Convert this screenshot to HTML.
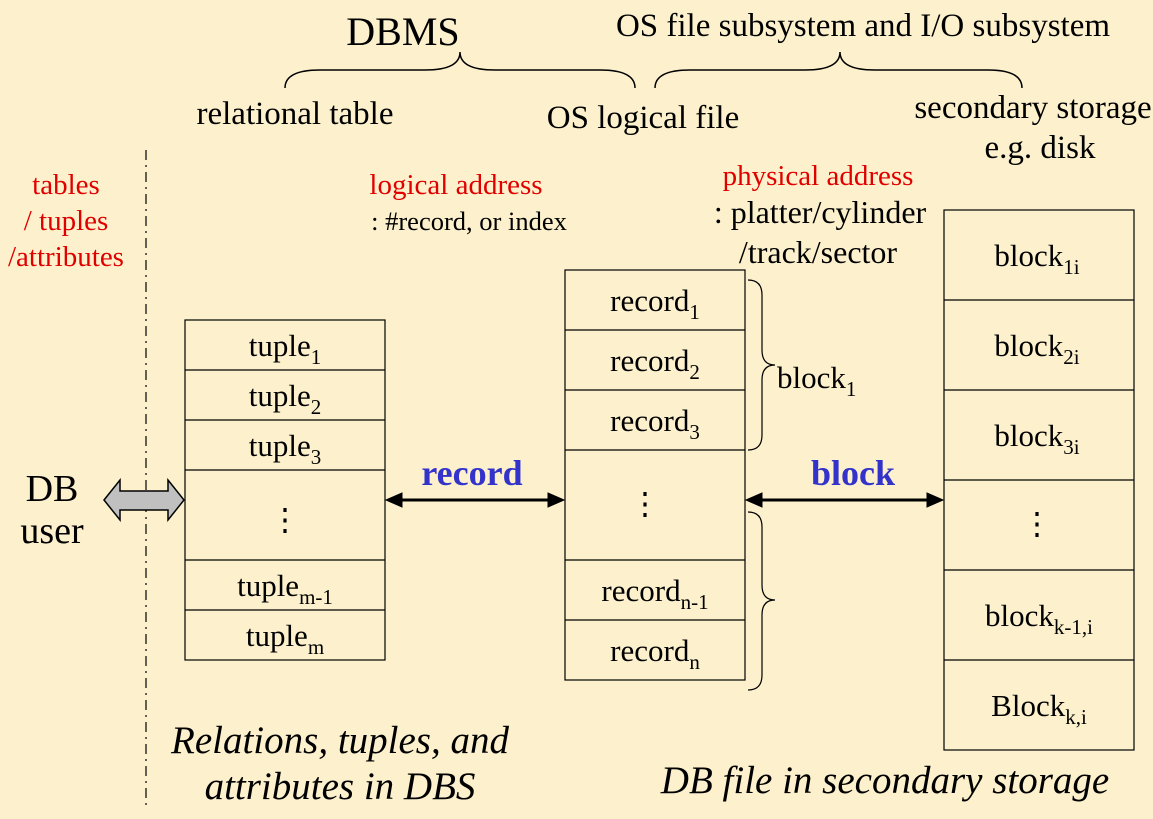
<!DOCTYPE html>
<html><head><meta charset="utf-8"><style>
html,body{margin:0;padding:0;background:#fcf1cc;}
svg{display:block;font-family:"Liberation Serif",serif;}
</style></head><body>
<svg width="1153" height="819" viewBox="0 0 1153 819">
<rect width="1153" height="819" fill="#fcf1cc"/>
<g font-size="33" fill="#000">
<text x="403" y="45" font-size="40" text-anchor="middle">DBMS</text>
<text x="863" y="36" text-anchor="middle">OS file subsystem and I/O subsystem</text>
<path d="M285,88 Q285,70 320,70 L425,70 Q460,70 460,52 Q460,70 495,70 L600,70 Q635,70 635,88" fill="none" stroke="#000" stroke-width="1.5"/>
<path d="M655,88 Q655,70 690,70 L805,70 Q840,70 840,52 Q840,70 875,70 L988,70 Q1022,70 1022,88" fill="none" stroke="#000" stroke-width="1.5"/>
<text x="295" y="124" text-anchor="middle">relational table</text>
<text x="643" y="128" text-anchor="middle">OS logical file</text>
<text x="1033" y="118" text-anchor="middle">secondary storage</text>
<text x="1040" y="158" text-anchor="middle">e.g. disk</text>
</g>
<line x1="146" y1="150" x2="146" y2="805" stroke="#000" stroke-width="1.2" stroke-dasharray="10,5,2,5"/>
<g font-size="29" fill="#e00000" text-anchor="middle">
<text x="66" y="194">tables</text>
<text x="66" y="230">/ tuples</text>
<text x="66" y="266">/attributes</text>
<text x="456" y="194">logical address</text>
<text x="818" y="185">physical address</text>
</g>
<g font-size="26.5" fill="#000" text-anchor="middle">
<text x="469" y="230">: #record, or index</text>
</g>
<g font-size="32" fill="#000" text-anchor="middle">
<text x="820" y="223">: platter/cylinder</text>
<text x="818" y="263">/track/sector</text>
</g>
<g font-size="38" fill="#000" text-anchor="middle">
<text x="52" y="501">DB</text>
<text x="52" y="543">user</text>
</g>
<path d="M104,500 L120,480 L120,491 L168,491 L168,480 L184,500 L168,520 L168,510 L120,510 L120,520 Z" fill="#c0c0c0" stroke="#000" stroke-width="1.5"/>
<g fill="none" stroke="#000" stroke-width="1.2">
<rect x="185" y="320" width="200" height="340"/>
<line x1="185" y1="370" x2="385" y2="370"/><line x1="185" y1="420" x2="385" y2="420"/>
<line x1="185" y1="470" x2="385" y2="470"/><line x1="185" y1="560" x2="385" y2="560"/>
<line x1="185" y1="610" x2="385" y2="610"/>
</g>
<g font-size="31" fill="#000" text-anchor="middle">
<text x="285" y="356">tuple<tspan font-size="21" dy="8">1</tspan></text>
<text x="285" y="406">tuple<tspan font-size="21" dy="8">2</tspan></text>
<text x="285" y="456">tuple<tspan font-size="21" dy="8">3</tspan></text>
<text x="285" y="530">⋮</text>
<text x="285" y="596">tuple<tspan font-size="21" dy="8">m-1</tspan></text>
<text x="285" y="646">tuple<tspan font-size="21" dy="8">m</tspan></text>
</g>
<g fill="none" stroke="#000" stroke-width="1.2">
<rect x="565" y="270" width="180" height="410"/>
<line x1="565" y1="330" x2="745" y2="330"/><line x1="565" y1="390" x2="745" y2="390"/>
<line x1="565" y1="450" x2="745" y2="450"/><line x1="565" y1="560" x2="745" y2="560"/>
<line x1="565" y1="620" x2="745" y2="620"/>
</g>
<g font-size="31" fill="#000" text-anchor="middle">
<text x="655" y="311">record<tspan font-size="21" dy="8">1</tspan></text>
<text x="655" y="371">record<tspan font-size="21" dy="8">2</tspan></text>
<text x="655" y="431">record<tspan font-size="21" dy="8">3</tspan></text>
<text x="645" y="514">⋮</text>
<text x="655" y="601">record<tspan font-size="21" dy="8">n-1</tspan></text>
<text x="655" y="661">record<tspan font-size="21" dy="8">n</tspan></text>
</g>
<path d="M748,280 Q762,280 762,295 L762,350 Q762,365 775,365 Q762,365 762,380 L762,435 Q762,450 748,450" fill="none" stroke="#000" stroke-width="1.2"/>
<path d="M748,512 Q762,512 762,527 L762,585 Q762,600 775,600 Q762,600 762,615 L762,675 Q762,690 748,690" fill="none" stroke="#000" stroke-width="1.2"/>
<text x="777" y="388" font-size="31">block<tspan font-size="21" dy="8">1</tspan></text>
<g fill="none" stroke="#000" stroke-width="1.2">
<rect x="944" y="210" width="190" height="540"/>
<line x1="944" y1="300" x2="1134" y2="300"/><line x1="944" y1="390" x2="1134" y2="390"/>
<line x1="944" y1="480" x2="1134" y2="480"/><line x1="944" y1="570" x2="1134" y2="570"/>
<line x1="944" y1="660" x2="1134" y2="660"/>
</g>
<g font-size="31" fill="#000" text-anchor="middle">
<text x="1037" y="266">block<tspan font-size="21" dy="8">1i</tspan></text>
<text x="1037" y="356">block<tspan font-size="21" dy="8">2i</tspan></text>
<text x="1037" y="446">block<tspan font-size="21" dy="8">3i</tspan></text>
<text x="1037" y="534">⋮</text>
<text x="1039" y="626">block<tspan font-size="21" dy="8">k-1,i</tspan></text>
<text x="1039" y="716">Block<tspan font-size="21" dy="8">k,i</tspan></text>
</g>
<g stroke="#000" stroke-width="3" fill="#000">
<line x1="398" y1="500" x2="552" y2="500"/>
<path d="M386,500 L402,493 L402,507 Z" stroke-width="1"/><path d="M564,500 L548,493 L548,507 Z" stroke-width="1"/>
<line x1="758" y1="500" x2="931" y2="500"/>
<path d="M746,500 L762,493 L762,507 Z" stroke-width="1"/><path d="M943,500 L927,493 L927,507 Z" stroke-width="1"/>
</g>
<text x="472" y="485" font-size="36" font-weight="bold" fill="#3333cc" text-anchor="middle">record</text>
<text x="853" y="485" font-size="36" font-weight="bold" fill="#3333cc" text-anchor="middle">block</text>
<g font-size="39" font-style="italic" fill="#000" text-anchor="middle">
<text x="340" y="753">Relations, tuples, and</text>
<text x="340" y="799">attributes in DBS</text>
<text x="885" y="793">DB file in secondary storage</text>
</g>
</svg>
</body></html>
